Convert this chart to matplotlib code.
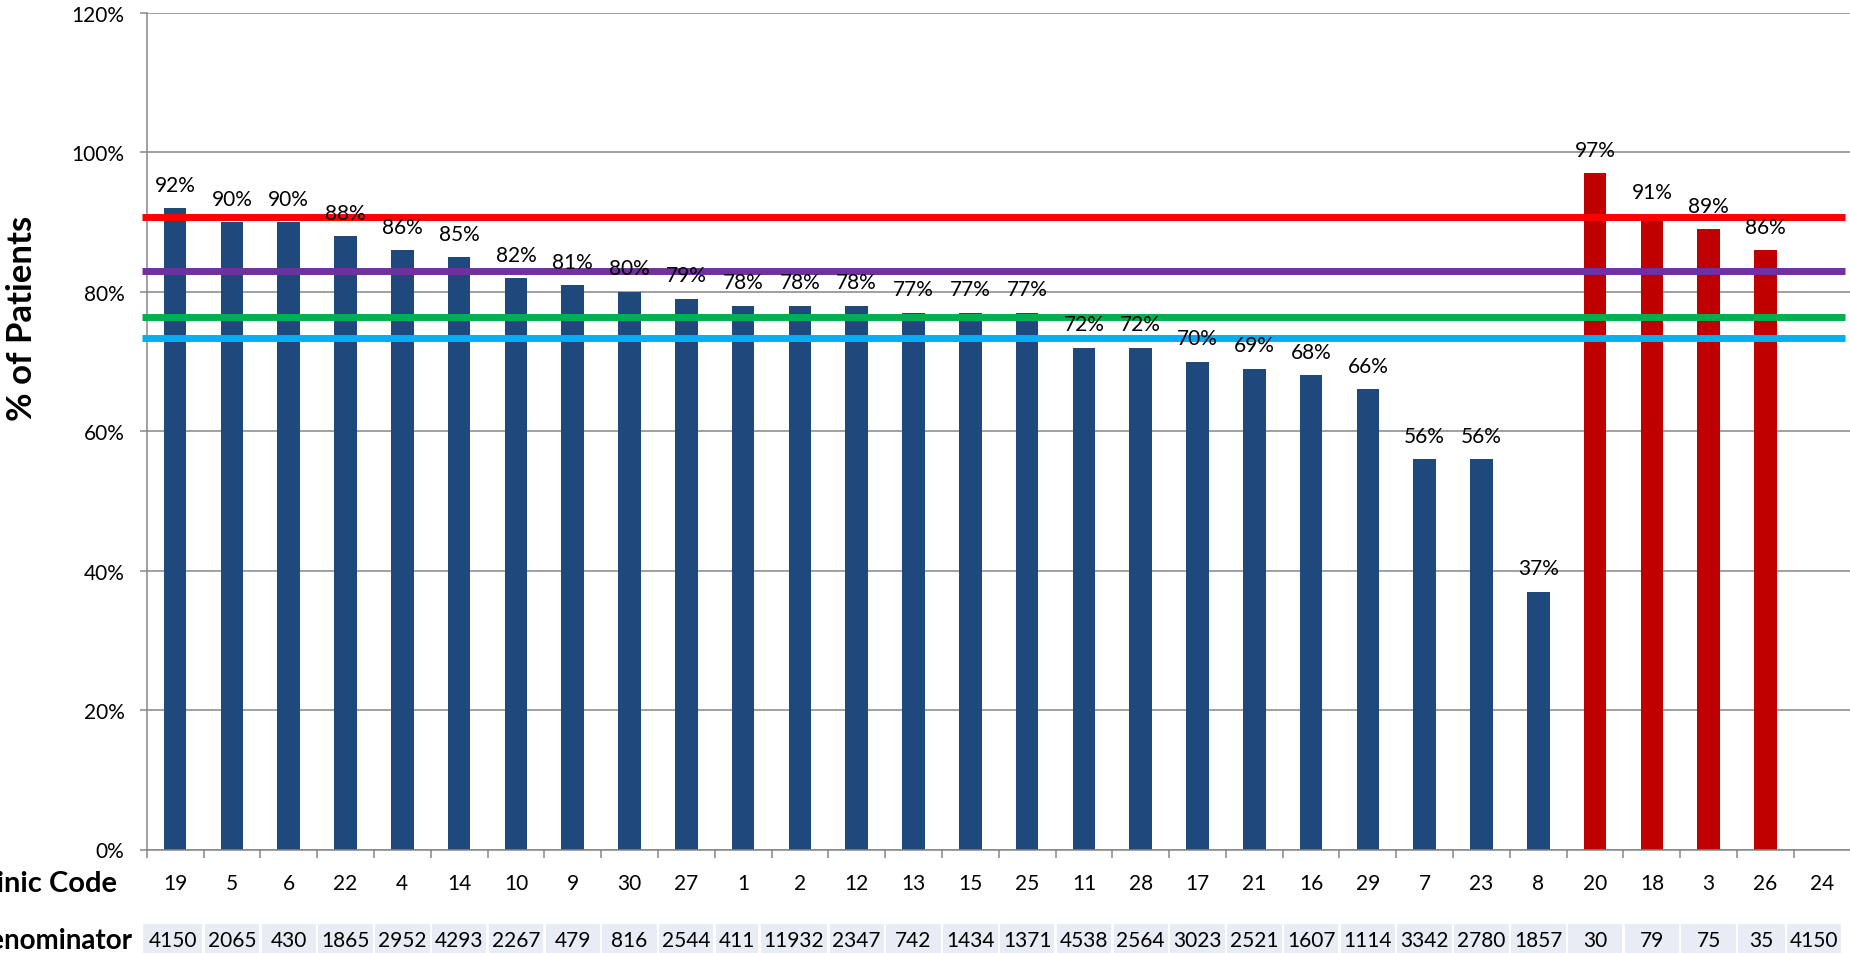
import numpy as np
import matplotlib
matplotlib.use("Agg")
import matplotlib.pyplot as plt
from matplotlib.patches import Rectangle
from matplotlib.transforms import blended_transform_factory

plt.rcParams['font.family'] = ['Lato', 'DejaVu Sans']

# ---- data ----
clinic_codes = ["19", "5", "6", "22", "4", "14", "10", "9", "30", "27", "1", "2", "12", "13",
                "15", "25", "11", "28", "17", "21", "16", "29", "7", "23", "8",
                "20", "18", "3", "26", "24"]
pct_values = [92, 90, 90, 88, 86, 85, 82, 81, 80, 79, 78, 78, 78, 77, 77, 77, 72, 72, 70,
              69, 68, 66, 56, 56, 37, 97, 91, 89, 86, None]
groups = ["blue"] * 25 + ["red"] * 4 + ["none"]
denominators = ["4150", "2065", "430", "1865", "2952", "4293", "2267", "479", "816", "2544",
                "411", "11932", "2347", "742", "1434", "1371", "4538", "2564", "3023", "2521",
                "1607", "1114", "3342", "2780", "1857", "30", "79", "75", "35", "4150"]
benchmark_values = [90.7, 83.0, 76.4, 73.4]
benchmark_colors = ["#FF0000", "#7030A0", "#00B050", "#00B0F0"]
y_ticks = [0, 20, 40, 60, 80, 100, 120]

group_colors = {"blue": "#1F497D", "red": "#C00000", "none": "none"}

FS = 15
W, H = 1850, 954
fig = plt.figure(figsize=(W / 100, H / 100), dpi=100)
ax_left, ax_right, ax_top, ax_bottom = 146.7, 1850.7, 14, 850.5
ax = fig.add_axes([ax_left / W, 1 - ax_bottom / H, (ax_right - ax_left) / W, (ax_bottom - ax_top) / H])
px_per_unit = (ax_right - ax_left) / len(clinic_codes)

n = len(clinic_codes)
x = np.arange(n)
vals = np.array([np.nan if v is None else v for v in pct_values], dtype=float)
cols = [group_colors[g] for g in groups]

ax.bar(x, np.nan_to_num(vals), width=0.4, color=cols, zorder=2)

# benchmark lines
for v, c in zip(benchmark_values, benchmark_colors):
    ax.hlines(v, -0.58, n - 0.6, colors=c, linewidth=5, zorder=3, clip_on=False)

# data labels
for xi, v in zip(x, vals):
    if not np.isnan(v):
        ax.annotate(f"{int(v)}%", (xi, v), xytext=(0, 12.5), textcoords='offset points',
                    ha='center', va='baseline', fontsize=FS, color='black', zorder=4)

ax.set_xlim(-0.5, n - 0.5)
ax.set_ylim(0, 120)
ax.set_yticks(y_ticks)
ax.set_yticklabels([f"{t}%" for t in y_ticks], fontsize=FS)
ax.yaxis.grid(True, color='#868686', linewidth=1.1, zorder=0)
ax.set_axisbelow(True)
ax.tick_params(axis='y', length=5, width=1.1, color='#868686', pad=11)

ax.set_xticks(np.arange(n + 1) - 0.5)
ax.set_xticklabels([])
ax.tick_params(axis='x', length=6, width=1.1, color='#868686', direction='out')

for s in ['top', 'right']:
    ax.spines[s].set_visible(False)
for s in ['left', 'bottom']:
    ax.spines[s].set_color('#868686')
    ax.spines[s].set_linewidth(1.1)

trans = blended_transform_factory(ax.transData, fig.transFigure)

# category row
for xi, code in zip(x, clinic_codes):
    ax.text(xi, 1 - 884 / H, code, transform=trans, ha='center', va='center',
            fontsize=FS, clip_on=False)

# denominator table row: cells follow the categories, widened where a number needs room
den_texts = [ax.text(xi, 1 - 941 / H, d, transform=trans, ha='center', va='center',
                     fontsize=FS, clip_on=False, zorder=5) for xi, d in zip(x, denominators)]
renderer = fig.canvas.get_renderer()
pad_u = 8 / px_per_unit
need = np.array([t.get_window_extent(renderer).width / px_per_unit + pad_u for t in den_texts])
bounds = np.arange(n + 1) - 0.5
bounds[0] = -0.5 - 5 / px_per_unit
bounds[-1] = n - 0.5 - 8 / px_per_unit
for i in range(n):
    short = need[i] - (bounds[i + 1] - bounds[i])
    if short > 0:
        slack_l = (bounds[i] - bounds[i - 1]) - need[i - 1] if i > 0 else -1
        slack_r = (bounds[i + 2] - bounds[i + 1]) - need[i + 1] if i < n - 1 else -1
        if slack_l >= slack_r:
            bounds[i] -= short
        else:
            bounds[i + 1] += short
gap_u = 1.2 / px_per_unit
cell_bottom = -0.01
cell_top = 1 - 925.5 / H
for i, t in enumerate(den_texts):
    l, r = bounds[i] + gap_u, bounds[i + 1] - gap_u
    ax.add_patch(Rectangle((l, cell_bottom), r - l, cell_top - cell_bottom, transform=trans,
                           facecolor='#E8ECF4', edgecolor='none', clip_on=False, zorder=1))
    t.set_x((l + r) / 2)

fig.text(117 / W, 1 - 884 / H, "Clinic Code", ha='right', va='center',
         fontsize=21, fontweight='bold')
fig.text(133 / W, 1 - 941 / H, "Denominator", ha='right', va='center',
         fontsize=20, fontweight='bold')
fig.text(22 / W, 1 - 318 / H, "% of Patients", ha='center', va='center', rotation=90,
         fontsize=25, fontweight='bold')

fig.savefig("out.png", dpi=100)
